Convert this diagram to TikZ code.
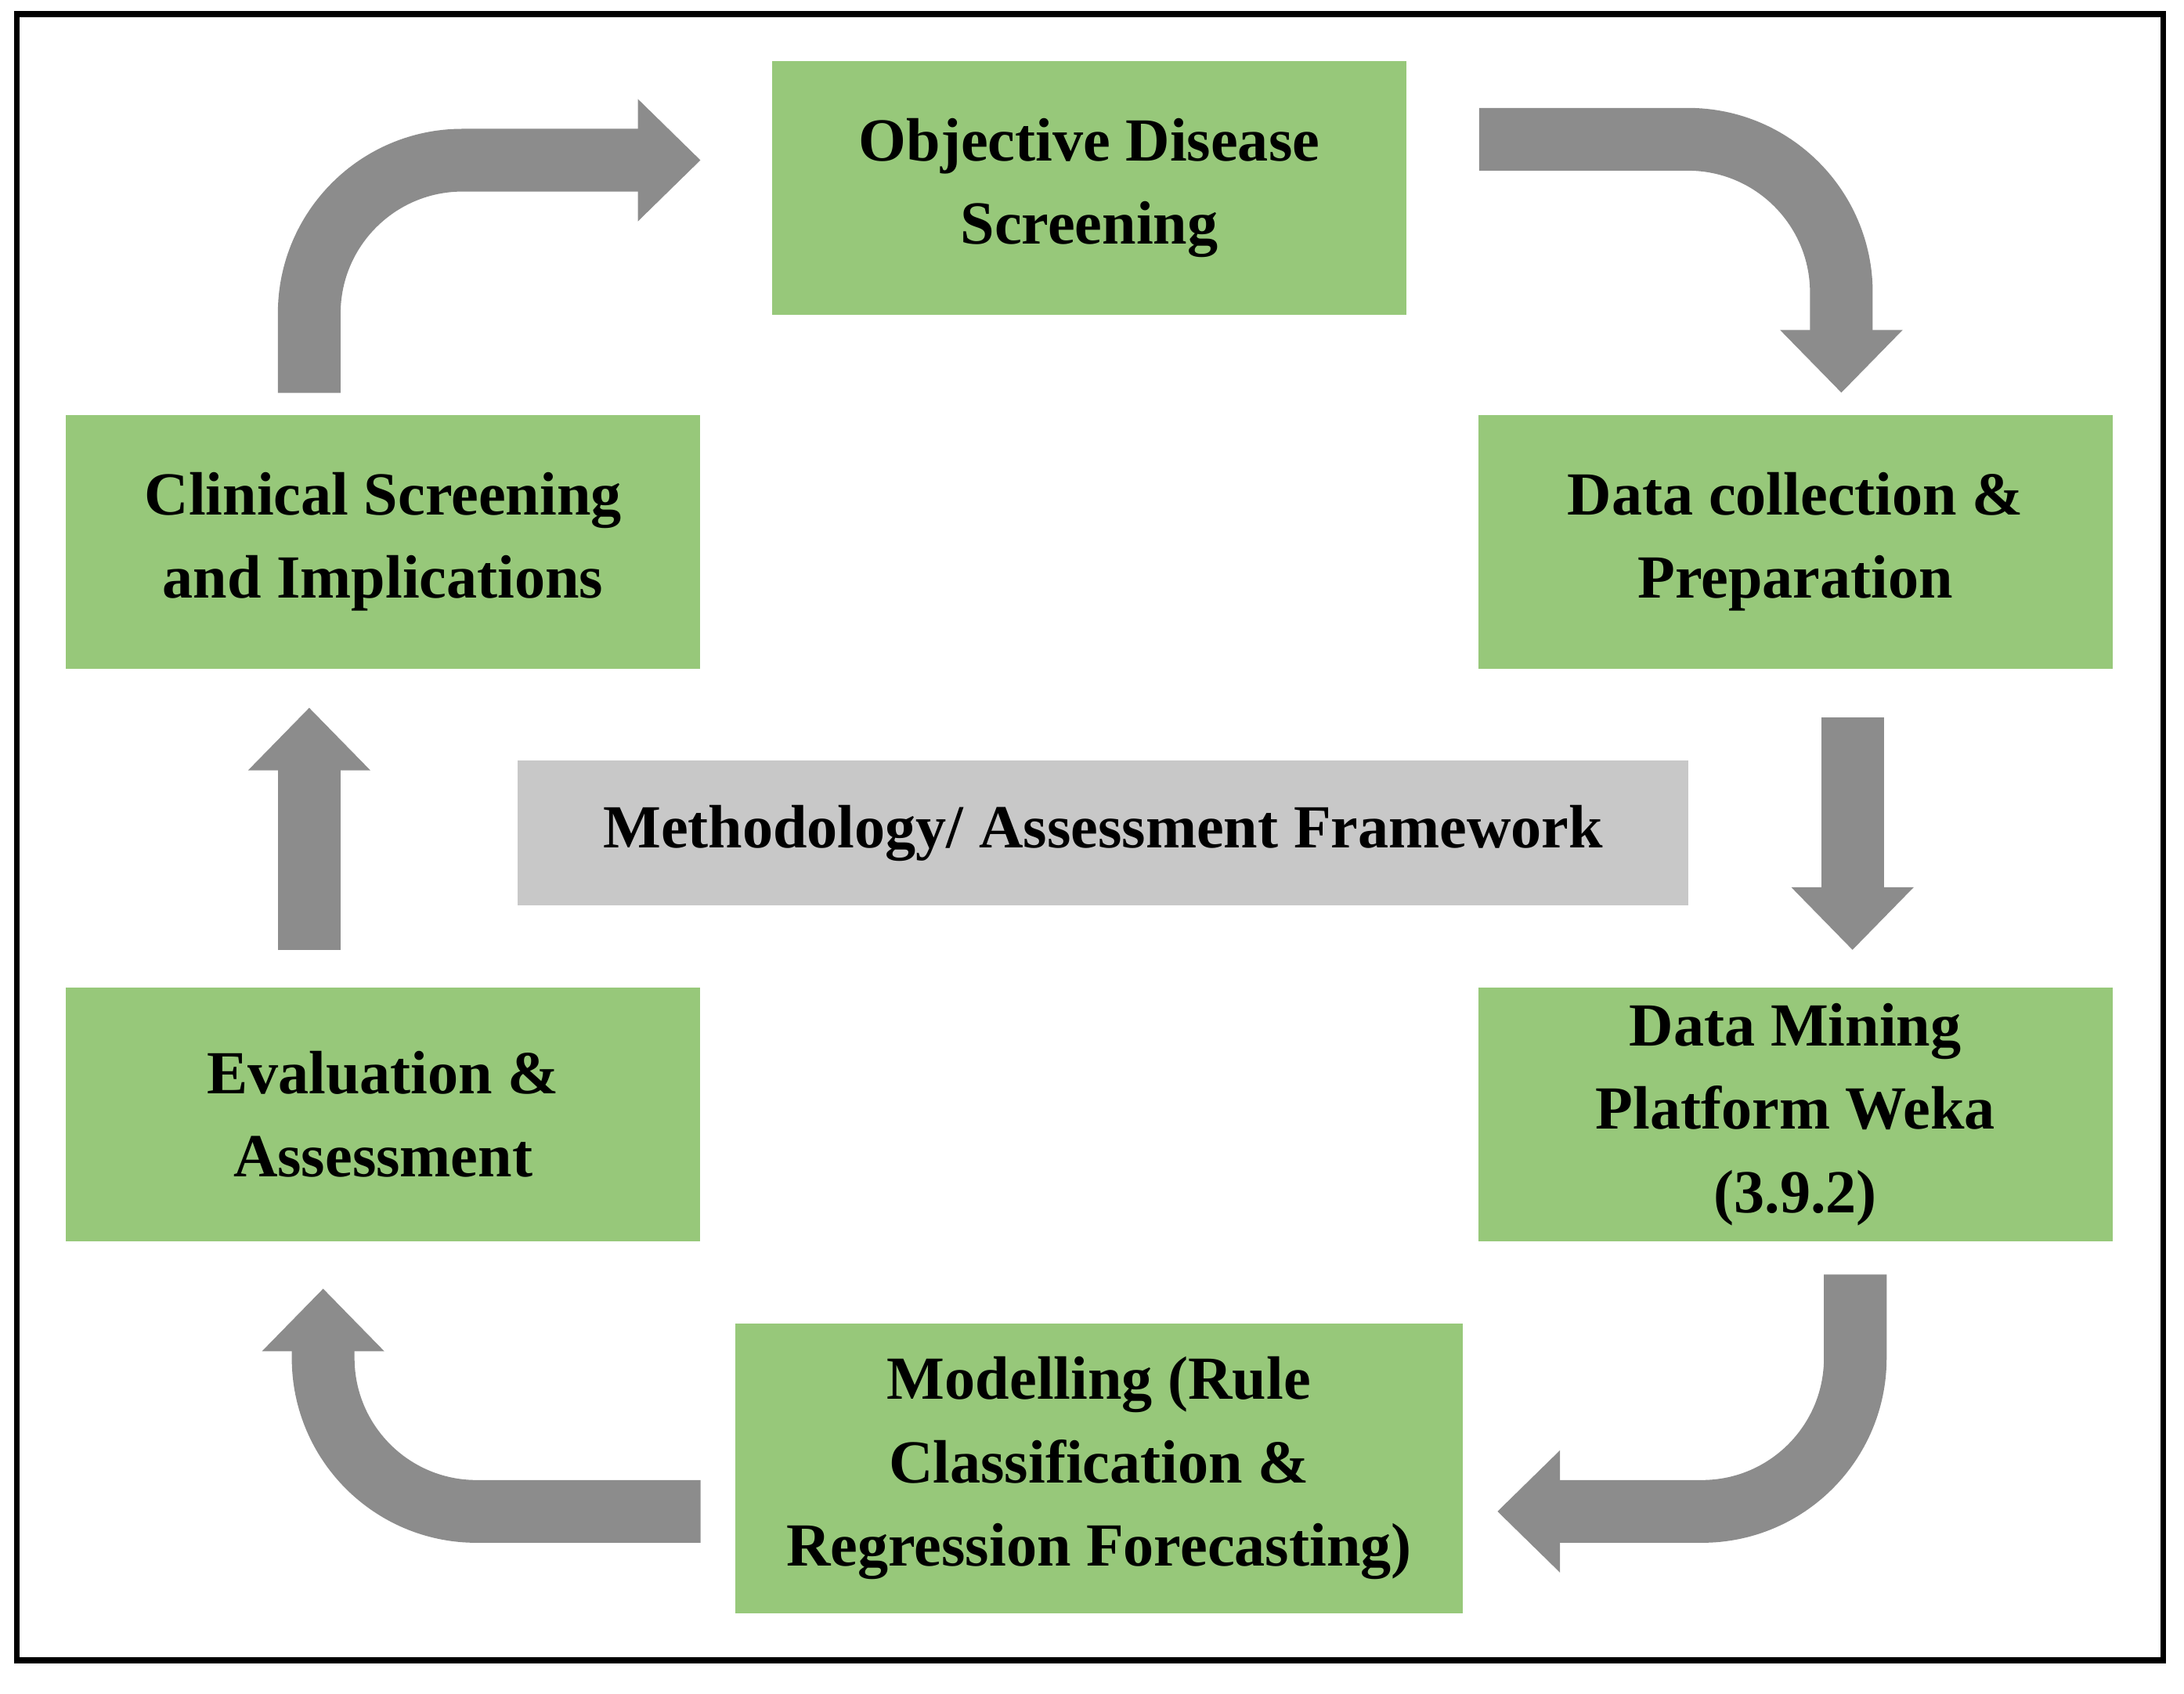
\documentclass[tikz,border=0pt]{standalone}
\usepackage{fontspec}
\setmainfont{Liberation Serif}
\usetikzlibrary{arrows.meta}
\definecolor{boxgreen}{RGB}{151,200,122}
\definecolor{boxgray}{RGB}{200,200,200}
\definecolor{arrgray}{RGB}{140,140,140}
\tikzset{
  stage/.style={fill=boxgreen, minimum width=4.55cm, minimum height=1.82cm, align=center,
    font=\fontsize{12.5}{17}\selectfont\bfseries, inner sep=2pt},
  flow/.style={draw=arrgray, line width=0.45cm, rounded corners=1.1cm,
    -{Triangle[width=0.85cm, length=0.45cm]}},
}
\begin{document}
\begin{tikzpicture}[x=0.01cm, y=-0.01cm]
  \useasboundingbox (0,0) rectangle (1568,1216);
  % frame
  \draw[line width=1.2pt] (12,10) rectangle (1553,1192);
  % boxes
  \node[stage] (ods) at (782,135) {Objective Disease\\Screening};
  \node[stage] (csi) at (275,389) {Clinical Screening\\and Implications};
  \node[stage] (dcp) at (1289,389) {Data collection \&\\Preparation};
  \node[fill=boxgray, minimum width=8.4cm, minimum height=1.04cm,
    font=\fontsize{12.5}{17}\selectfont\bfseries] (maf) at (792,598) {Methodology/ Assessment Framework};
  \node[stage] (eva) at (275,800) {Evaluation \&\\Assessment};
  \node[stage] (dmp) at (1289,800) {Data Mining\\Platform Weka\\(3.9.2)};
  \node[stage, minimum width=5.22cm, minimum height=2.08cm] (mod) at (789,1054) {Modelling (Rule\\Classification \&\\Regression Forecasting)};
  % arrow ends
  \coordinate (a1) at (222,282);
  \coordinate (b1) at (503,115);
  \coordinate (a2) at (1062,100);
  \coordinate (b2) at (1322,282);
  \coordinate (a3) at (1330,515);
  \coordinate (b3) at (1330,682);
  \coordinate (a4) at (1332,915);
  \coordinate (b4) at (1075,1085);
  \coordinate (a5) at (503,1085);
  \coordinate (b5) at (232,925);
  \coordinate (a6) at (222,682);
  \coordinate (b6) at (222,508);
  % arrows
  \draw[flow] (a1) |- (b1);
  \draw[flow] (a2) -| (b2);
  \draw[flow] (a3) -- (b3);
  \draw[flow] (a4) |- (b4);
  \draw[flow] (a5) -| (b5);
  \draw[flow] (a6) -- (b6);
\end{tikzpicture}
\end{document}
